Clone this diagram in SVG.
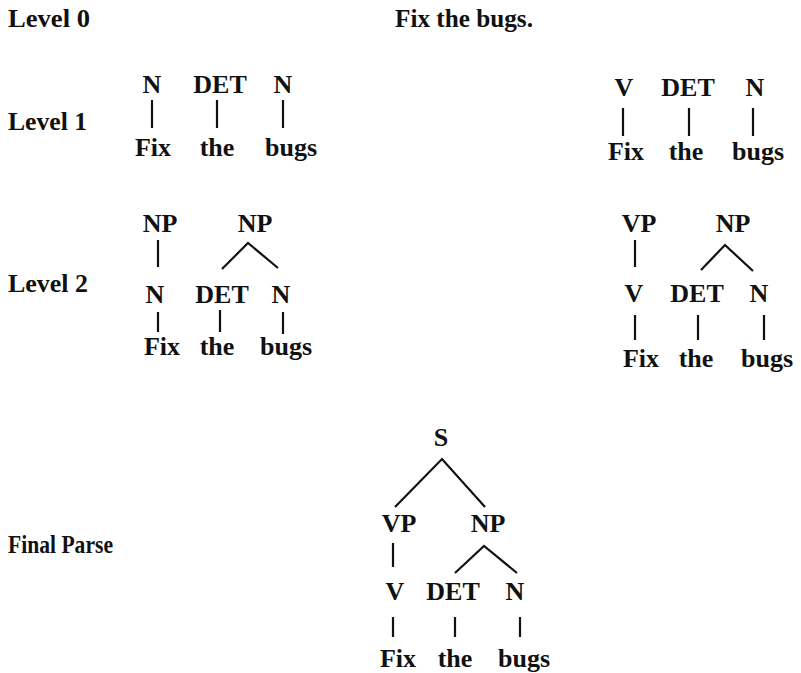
<svg xmlns="http://www.w3.org/2000/svg" width="801" height="673" viewBox="0 0 801 673">
<style>
text{font-family:"Liberation Serif","Times New Roman",serif;font-weight:bold;font-size:26px;fill:#111}
.t{text-anchor:middle}
.lbl{font-size:25px}
.e{stroke:#111;stroke-width:2.2;fill:none;stroke-linecap:butt}
</style>
<rect width="801" height="673" fill="#fff"/>
<g id="labels">
<text id="level0" class="lbl" x="8" y="27" textLength="82" lengthAdjust="spacingAndGlyphs">Level 0</text>
<text id="level1" class="lbl" x="8" y="130" textLength="79" lengthAdjust="spacingAndGlyphs">Level 1</text>
<text id="level2" class="lbl" x="8" y="292" textLength="80" lengthAdjust="spacingAndGlyphs">Level 2</text>
<text id="final" class="lbl" x="8" y="553" textLength="105" lengthAdjust="spacingAndGlyphs">Final Parse</text>
<text id="sentence" class="lbl" x="395" y="27" textLength="138" lengthAdjust="spacingAndGlyphs">Fix the bugs.</text>
</g>
<g id="connectors" class="e">
<line x1="152" y1="100" x2="152" y2="128"/>
<line x1="217" y1="100" x2="217" y2="128"/>
<line x1="283" y1="100" x2="283" y2="128"/>
<line x1="623" y1="108" x2="623" y2="136"/>
<line x1="689" y1="108" x2="689" y2="136"/>
<line x1="753" y1="108" x2="753" y2="136"/>
<line x1="158" y1="240" x2="158" y2="267"/>
<polyline points="222,269 248,243 278,268"/>
<line x1="158" y1="312" x2="158" y2="332"/>
<line x1="220" y1="310" x2="220" y2="332"/>
<line x1="283" y1="312" x2="283" y2="334"/>
<line x1="635" y1="240" x2="635" y2="267"/>
<polyline points="701,270 725,245 753,271"/>
<line x1="635" y1="315" x2="635" y2="340"/>
<line x1="698" y1="315" x2="698" y2="340"/>
<line x1="764" y1="315" x2="764" y2="340"/>
<polyline points="395,507 442,459 485,507"/>
<line x1="393" y1="543" x2="393" y2="567"/>
<polyline points="455,573 484,546 517,573"/>
<line x1="393" y1="617" x2="393" y2="637"/>
<line x1="455" y1="617" x2="455" y2="637"/>
<line x1="520" y1="617" x2="520" y2="637"/>
</g>
<g id="tree1a">
<g id="t1a-n1"><text class="t" x="152" y="93">N</text></g>
<g id="t1a-det"><text class="t" x="220" y="93">DET</text></g>
<g id="t1a-n2"><text class="t" x="283" y="93">N</text></g>
<g id="t1a-fix"><text class="t" x="153" y="156">Fix</text></g>
<g id="t1a-the"><text class="t" x="217" y="156">the</text></g>
<g id="t1a-bugs"><text class="t" x="291" y="156">bugs</text></g>
</g>
<g id="tree1b">
<g id="t1b-v"><text class="t" x="624" y="96">V</text></g>
<g id="t1b-det"><text class="t" x="688" y="96">DET</text></g>
<g id="t1b-n"><text class="t" x="755" y="96">N</text></g>
<g id="t1b-fix"><text class="t" x="626" y="160">Fix</text></g>
<g id="t1b-the"><text class="t" x="686" y="160">the</text></g>
<g id="t1b-bugs"><text class="t" x="758" y="160">bugs</text></g>
</g>
<g id="tree2a">
<g id="t2a-np1"><text class="t" x="160" y="232">NP</text></g>
<g id="t2a-np2"><text class="t" x="255" y="232">NP</text></g>
<g id="t2a-n1"><text class="t" x="155" y="303">N</text></g>
<g id="t2a-det"><text class="t" x="222" y="303">DET</text></g>
<g id="t2a-n2"><text class="t" x="281" y="303">N</text></g>
<g id="t2a-fix"><text class="t" x="162" y="355">Fix</text></g>
<g id="t2a-the"><text class="t" x="217" y="355">the</text></g>
<g id="t2a-bugs"><text class="t" x="286" y="355">bugs</text></g>
</g>
<g id="tree2b">
<g id="t2b-vp"><text class="t" x="639" y="232">VP</text></g>
<g id="t2b-np"><text class="t" x="733" y="232">NP</text></g>
<g id="t2b-v"><text class="t" x="634" y="302">V</text></g>
<g id="t2b-det"><text class="t" x="697" y="302">DET</text></g>
<g id="t2b-n"><text class="t" x="759" y="302">N</text></g>
<g id="t2b-fix"><text class="t" x="641" y="367">Fix</text></g>
<g id="t2b-the"><text class="t" x="696" y="367">the</text></g>
<g id="t2b-bugs"><text class="t" x="767" y="367">bugs</text></g>
</g>
<g id="tree3">
<g id="t3-s"><text class="t" x="441" y="446">S</text></g>
<g id="t3-vp"><text class="t" x="399" y="532">VP</text></g>
<g id="t3-np"><text class="t" x="488" y="532">NP</text></g>
<g id="t3-v"><text class="t" x="395" y="600">V</text></g>
<g id="t3-det"><text class="t" x="453" y="600">DET</text></g>
<g id="t3-n"><text class="t" x="515" y="600">N</text></g>
<g id="t3-fix"><text class="t" x="398" y="667">Fix</text></g>
<g id="t3-the"><text class="t" x="455" y="667">the</text></g>
<g id="t3-bugs"><text class="t" x="524" y="667">bugs</text></g>
</g>
</svg>
